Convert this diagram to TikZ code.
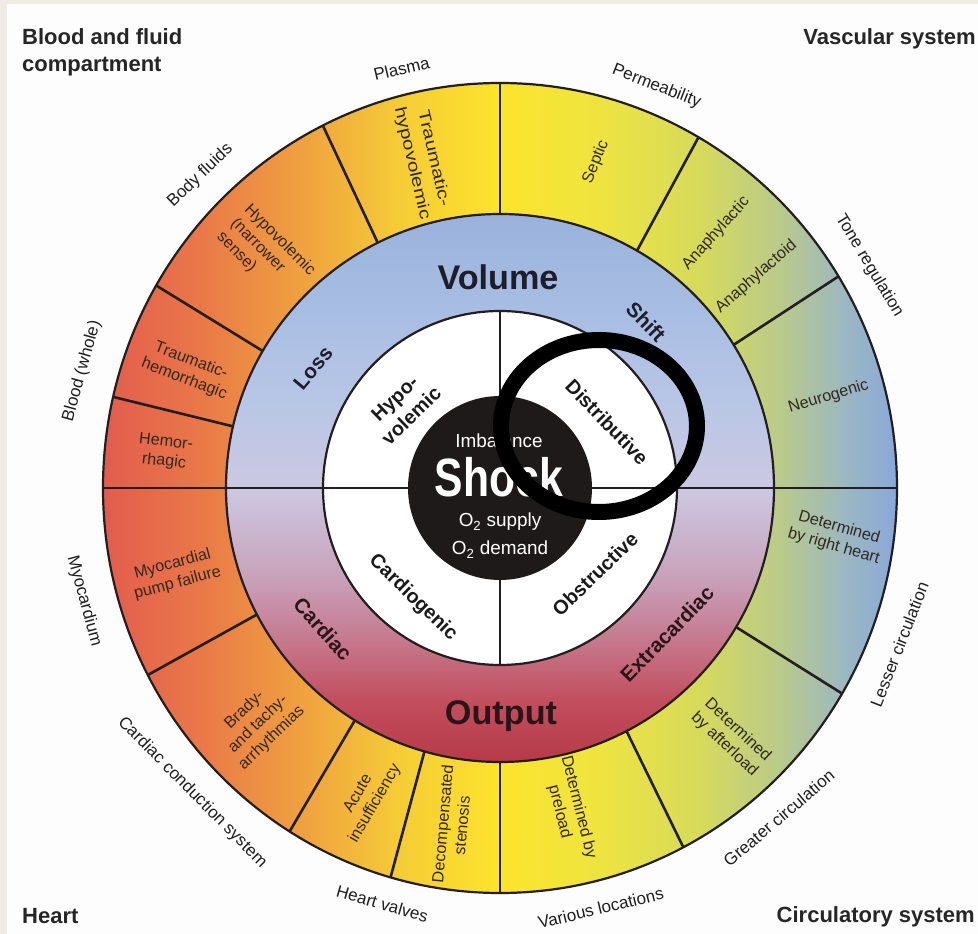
\documentclass[tikz,border=0pt]{standalone}
\usepackage{fontspec}
\setmainfont{Liberation Sans}
\usepackage{graphicx}
\newcommand\myfs[2]{\fontsize{#1}{#2}\selectfont}
\definecolor{framecol}{HTML}{EFECE6}
\definecolor{paper}{HTML}{FDFDFD}
\definecolor{lin}{HTML}{231F20}
\definecolor{disc}{HTML}{1E1A1A}
\definecolor{title}{HTML}{262626}
\definecolor{labtxt}{HTML}{1E1E1E}
\definecolor{celltxt}{HTML}{33281F}
\definecolor{midtxt}{HTML}{1E1E2A}
\definecolor{inntxt}{HTML}{1A1A1A}
\definecolor{outtxt}{HTML}{2A1518}
% outer ring colours (left to right)
\definecolor{oa}{HTML}{E25C4E}
\definecolor{ob}{HTML}{E97848}
\definecolor{oc}{HTML}{EFA040}
\definecolor{od}{HTML}{F5CC36}
\definecolor{oe}{HTML}{FCE42C}
\definecolor{of}{HTML}{EEE440}
\definecolor{og}{HTML}{D6DA5C}
\definecolor{oh}{HTML}{BACA8A}
\definecolor{oi}{HTML}{9AB6C4}
\definecolor{oj}{HTML}{8AA8DA}
% middle ring colours (bottom to top)
\definecolor{ma}{HTML}{B73A48}
\definecolor{mb}{HTML}{C24F5E}
\definecolor{mc}{HTML}{C6788E}
\definecolor{md}{HTML}{C8A0B8}
\definecolor{me}{HTML}{CCC8E2}
\definecolor{mf}{HTML}{B8C6E6}
\definecolor{mg}{HTML}{A6BCE2}
\definecolor{mh}{HTML}{9AB2DC}
\pgfdeclarehorizontalshading{outerring}{100bp}{color(0bp)=(oa); color(25bp)=(oa); color(31.1bp)=(ob); color(37.4bp)=(oc); color(43.7bp)=(od); color(50bp)=(oe); color(56.3bp)=(of); color(62.6bp)=(og); color(67.6bp)=(oh); color(72bp)=(oi); color(75bp)=(oj); color(100bp)=(oj)}
\pgfdeclareverticalshading{midring}{100bp}{color(0bp)=(ma); color(25bp)=(ma); color(30.7bp)=(mb); color(36.1bp)=(mc); color(41.6bp)=(md); color(49.9bp)=(me); color(58bp)=(mf); color(67.2bp)=(mg); color(75bp)=(mh); color(100bp)=(mh)}
\begin{document}
\begin{tikzpicture}[x=1pt,y=1pt,
  ring/.style={draw=lin, line width=2.2pt},
  divider/.style={draw=lin, line width=2.6pt},
  cornerlab/.style={font=\myfs{22}{24}\bfseries, text=title, inner sep=0pt},
  outlab/.style={font=\myfs{17}{18}, text=labtxt, inner sep=0pt},
  celllab/.style={font=\myfs{16.2}{19.5}, text=celltxt, align=center, inner sep=0pt},
  midlab/.style={font=\myfs{20.7}{23}\bfseries, text=midtxt, inner sep=0pt},
  innlab/.style={font=\myfs{19.8}{24}\bfseries, text=inntxt, align=center, inner sep=0pt},
  ctrlab/.style={text=white, inner sep=0pt},
  marker/.style={draw=black, line width=16pt}
]
\useasboundingbox (-500,-446) rectangle (478,488);
\fill[framecol] (-500,-446) rectangle (478,488);
\fill[paper] (-493,-446) rectangle (478,484);

% rings
\shade[shading=outerring] (0,0) ellipse [x radius=397, y radius=405];
\shade[shading=midring] (0,0) circle [radius=274];
\fill[white] (0,0) circle [radius=177];
\fill[disc] (0,0) circle [radius=92];

\draw[ring] (0,0) ellipse [x radius=397, y radius=405];
\draw[ring] (0,0) circle [radius=274];
\draw[ring] (0,0) circle [radius=177];

% dividers
\foreach \a in {167,150,116.5,90,60,31.5,-30.5,-62.5,-90,-106,-122,-152.5}
  \draw[divider] (\a:274pt) -- (\a:397pt and 405pt);
\draw[divider] (-397,0) -- (-92,0);
\draw[divider] (92,0) -- (397,0);
\draw[divider] (0,92) -- (0,177);
\draw[divider] (0,-92) -- (0,-177);

% corner titles
\node[cornerlab, anchor=base west] (t1a) at (-478,443) {Blood and fluid};
\node[cornerlab, anchor=base west] (t1b) at (-478,416) {compartment};
\node[cornerlab, anchor=base east] (t2) at (476,443) {Vascular system};
\node[cornerlab, anchor=base west] (t3) at (-478,-435) {Heart};
\node[cornerlab, anchor=base east] (t4) at (475,-434) {Circulatory system};

% outer labels
\node[outlab, rotate=13.2] (plasma) at (103.2:431pt) {Plasma};
\node[outlab, rotate=-21.3] (perm) at (68.7:431pt) {Permeability};
\node[outlab, rotate=-59] (tone) at (31:431pt) {Tone regulation};
\node[outlab, rotate=43.8] (bodyf) at (133.8:433pt) {Body fluids};
\node[outlab, rotate=74.4] (bloodw) at (164.4:434pt) {Blood (whole)};
\node[outlab, rotate=-74.8] (myoc) at (195.2:431pt) {Myocardium};
\node[outlab, rotate=-45.3] (ccs) at (224.7:433pt) {Cardiac conduction system};
\node[outlab, rotate=-15.8] (hv) at (254.2:432pt) {Heart valves};
\node[outlab, rotate=13.5] (vl) at (283.5:432pt) {Various locations};
\node[outlab, rotate=40.2] (gc) at (310.2:432pt) {Greater circulation};
\node[outlab, rotate=68.6] (lc) at (338.6:429pt) {Lesser circulation};

% cell labels
\node[celllab, rotate=-6] (c1) at (173.9:337pt) {Hemor-\\rhagic};
\node[celllab, rotate=-21] (c2) at (159.3:334pt) {Traumatic-\\hemorrhagic};
\node[celllab, rotate=-45, align=left] (c3) at (135:331pt) {Hypovolemic\\(narrower\\sense)};
\node[celllab, rotate=-77, font=\myfs{16.2}{22}] (c4) at (103.3:336pt) {\scalebox{1.28}[1]{Traumatic-}\\\scalebox{1.28}[1]{hypovolemic}};
\node[celllab, rotate=68] (c5) at (73.6:340pt) {Septic};
\node[celllab, rotate=48] (c6) at (49.7:334pt) {Anaphylactic};
\node[celllab, rotate=41] (c7) at (39.5:332pt) {Anaphylactoid};
\node[celllab, rotate=17] (c8) at (15.5:341pt) {Neurogenic};
\node[celllab, rotate=-16] (c9) at (-8.3:340pt) {Determined\\by right heart};
\node[celllab, rotate=-43] (c10) at (-47.2:340pt) {Determined\\by afterload};
\node[celllab, rotate=-76] (c11) at (-77.9:329pt) {Determined by\\preload};
\node[celllab, rotate=85] (c12) at (261.9:340pt) {Decompensated\\stenosis};
\node[celllab, rotate=60] (c13) at (246.8:338pt) {Acute\\insufficiency};
\node[celllab, rotate=44] (c14) at (224.3:338pt) {Brady-\\and tachy-\\arrhythmias};
\node[celllab, rotate=15] (c15) at (194.8:336pt) {Myocardial\\pump failure};

% middle ring labels
\node[midlab, font=\myfs{34.2}{36}\bfseries, anchor=base] (vol) at (-2,198) {Volume};
\node[midlab, font=\myfs{34.2}{36}\bfseries, text=outtxt, anchor=base] (outp) at (1,-237) {Output};
\node[midlab, rotate=50] (loss) at (-187,120) {Loss};
\node[midlab, rotate=-46] (shift) at (146,166) {Shift};
\node[midlab, text=outtxt, rotate=-48] (card) at (-177,-141) {Cardiac};
\node[midlab, text=outtxt, rotate=46] (extra) at (167,-146) {Extracardiac};

% inner ring labels
\node[innlab, rotate=44] (hypo) at (-97,81) {Hypo-\\volemic};
\node[innlab, rotate=-46] (dist) at (107,66) {Distributive};
\node[innlab, rotate=-44] (cardio) at (-87,-110) {Cardiogenic};
\node[innlab, rotate=44] (obst) at (95,-86) {Obstructive};

% centre
\node[ctrlab, font=\myfs{18.9}{21}, anchor=base] (imb) at (-1,40) {Imbalance};
\node[ctrlab, font=\myfs{54}{56}\bfseries, anchor=base] (shock) at (-1,-9) {\scalebox{0.79}[1]{Shock}};
\node[ctrlab, font=\myfs{18.9}{21}, anchor=base] (sup) at (0,-39) {O\textsubscript{2} supply};
\node[ctrlab, font=\myfs{18.9}{21}, anchor=base] (dem) at (0,-67) {O\textsubscript{2} demand};

% annotation mark
\draw[marker] (99,62) ellipse [x radius=98, y radius=86];
\end{tikzpicture}
\end{document}
